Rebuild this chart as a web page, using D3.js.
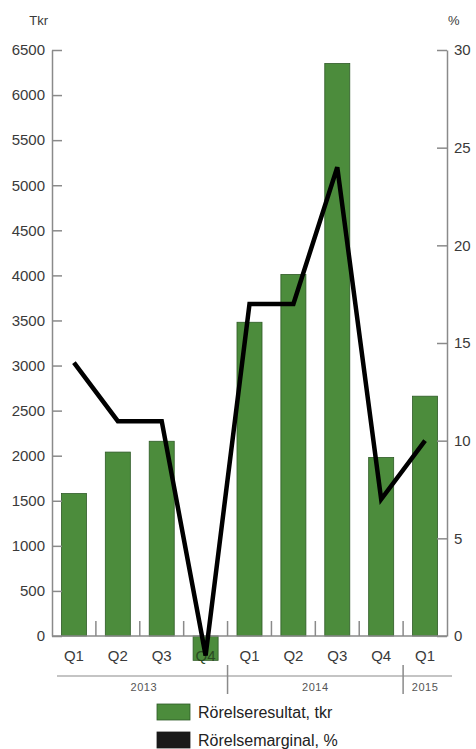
<!DOCTYPE html>
<html><head><meta charset="utf-8">
<script src="https://cdn.jsdelivr.net/npm/d3@7"></script>
<style>body{margin:0;background:#fff;}svg{display:block;font-family:"Liberation Sans",Arial,sans-serif;}</style>
</head><body>
<svg id="c" width="476" height="749"></svg>
<script>
const quarters = ["Q1","Q2","Q3","Q4","Q1","Q2","Q3","Q4","Q1"];
const years = [{label:"2013", start:0, end:4},{label:"2014", start:4, end:8},{label:"2015", start:8, end:9}];
const resultat = [1580, 2040, 2160, -270, 3480, 4010, 6350, 1980, 2660];
const marginal = [14, 11, 11, -1, 17, 17, 24, 7, 10];
const leftTicks = [0,500,1000,1500,2000,2500,3000,3500,4000,4500,5000,5500,6000,6500];
const rightTicks = [0,5,10,15,20,25,30];
const legendLabels = ["Rörelseresultat, tkr","Rörelsemarginal, %"];

const svg = d3.select("#c");
const L = 52, R = 447, T = 50, B = 636;
const idx = d3.range(quarters.length);
const x = d3.scaleBand().domain(idx).range([L, R]).paddingInner(0.43).paddingOuter(0.215);
const xStep = d3.scaleLinear().domain([0, quarters.length]).range([L, R]);
const y = d3.scaleLinear().domain([0, 6500]).range([B, T]);
const y2 = d3.scaleLinear().domain([0, 30]).range([B, T]);
const axisCol = "#8a8a8a", textCol = "#3a3a3a";

// bars
svg.append("g").selectAll("rect").data(resultat).join("rect")
  .attr("x", (d,i) => x(i)).attr("width", x.bandwidth())
  .attr("y", d => Math.min(y(d), y(0))).attr("height", d => Math.abs(y(d) - y(0)))
  .attr("fill", "#4c8c3c").attr("stroke", "#2e5a26").attr("stroke-width", 0.8);

// quarter labels
svg.append("g").selectAll("text").data(quarters).join("text")
  .attr("x", (d,i) => x(i) + x.bandwidth()/2).attr("y", 661)
  .attr("text-anchor", "middle").attr("font-size", 15)
  .attr("fill", (d,i) => resultat[i] < 0 ? "#2a4a22" : textCol).text(d => d);

// small separator ticks at bottom
svg.append("g").selectAll("line").data(d3.range(1, quarters.length)).join("line")
  .attr("x1", d => xStep(d)).attr("x2", d => xStep(d))
  .attr("y1", B - 15).attr("y2", B).attr("stroke", axisCol).attr("stroke-width", 1.5);

// bottom axis line
svg.append("line").attr("x1", L).attr("x2", R).attr("y1", B).attr("y2", B)
  .attr("stroke", axisCol).attr("stroke-width", 1.5);

// left axis
const gl = svg.append("g").attr("transform", `translate(${L},0)`)
  .call(d3.axisLeft(y).tickValues(leftTicks).tickFormat(d3.format("d")).tickSize(-10).tickSizeOuter(0).tickPadding(7));
// right axis
const gr = svg.append("g").attr("transform", `translate(${R},0)`)
  .call(d3.axisRight(y2).tickValues(rightTicks).tickFormat(d3.format("d")).tickSize(-10).tickSizeOuter(0).tickPadding(7));
[gl, gr].forEach(g => {
  g.select(".domain").attr("stroke", axisCol).attr("stroke-width", 1.5);
  g.selectAll(".tick line").attr("stroke", axisCol).attr("stroke-width", 1.5);
  g.selectAll(".tick text").attr("fill", textCol).attr("font-size", 15).attr("font-family", "Liberation Sans, Arial, sans-serif");
});

// line
svg.append("path").datum(marginal)
  .attr("d", d3.line().x((d,i) => x(i) + x.bandwidth()/2).y(d => y2(d)))
  .attr("fill", "none").attr("stroke", "#000").attr("stroke-width", 4.5).attr("stroke-linejoin", "miter");

// year axis
svg.append("line").attr("x1", 57).attr("x2", 452).attr("y1", 676).attr("y2", 676)
  .attr("stroke", axisCol).attr("stroke-width", 1.2);
svg.append("g").selectAll("line").data(years.slice(1)).join("line")
  .attr("x1", d => xStep(d.start)).attr("x2", d => xStep(d.start))
  .attr("y1", 665).attr("y2", 694).attr("stroke", axisCol).attr("stroke-width", 1.5);
svg.append("g").selectAll("text").data(years).join("text")
  .attr("x", d => (xStep(d.start) + xStep(d.end))/2 + (d.start===0 ? 4 : 0))
  .attr("y", 691).attr("text-anchor", "middle").attr("font-size", 11).attr("letter-spacing", 0.5)
  .attr("fill", "#555").text(d => d.label);

// axis titles
svg.append("text").attr("x", 48).attr("y", 25).attr("text-anchor", "end").attr("font-size", 13).attr("fill", textCol).text("Tkr");
svg.append("text").attr("x", 448).attr("y", 25).attr("font-size", 13).attr("fill", textCol).text("%");

// legend
const lg = svg.append("g");
const legendColors = ["#4c8c3c", "#1a1a1a"];
legendLabels.forEach((t, i) => {
  lg.append("rect").attr("x", 157).attr("y", 704 + i*28).attr("width", 33).attr("height", 16)
    .attr("fill", legendColors[i]).attr("stroke", i===0 ? "#2e5a26" : "#1a1a1a").attr("stroke-width", 0.8);
  lg.append("text").attr("x", 198).attr("y", 718 + i*28).attr("font-size", 16).attr("fill", "#222").text(t);
});
</script>
</body></html>
